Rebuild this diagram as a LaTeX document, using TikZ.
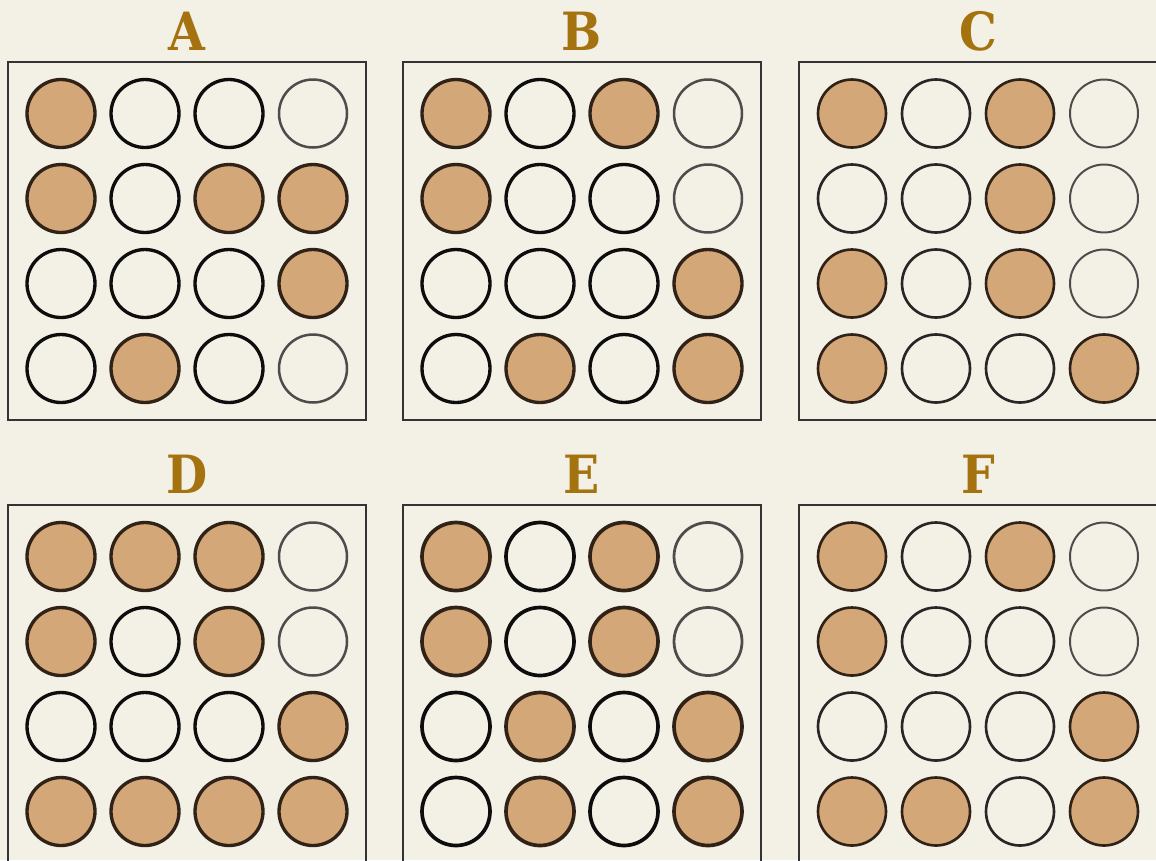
\documentclass[tikz,border=0pt]{standalone}
\usepackage{fontspec}
\usepackage{xcolor}
\usepackage{tikz}
\usetikzlibrary{positioning,calc}
\newfontfamily\tagfont[FakeStretch=0.9]{DejaVu Serif}
\definecolor{bgcream}{RGB}{243,240,229}
\definecolor{pegtan}{RGB}{212,167,120}
\definecolor{tagbrown}{RGB}{164,114,14}
\definecolor{rimbrown}{RGB}{48,34,22}

\begin{document}
\begin{tikzpicture}[
  x=0.02cm, y=-0.02cm,
  panel/.style={draw=black!80, line width=0.85pt, minimum size=7.16cm,
                inner sep=0pt, shape=rectangle},
  hole/.style={circle, minimum size=1.36cm, inner sep=0pt, draw=black},
  peg/.style={hole, fill=pegtan, draw=rimbrown},
  tag/.style={font=\tagfont\bfseries\fontsize{30}{31}\selectfont,
              text=tagbrown, inner sep=0pt},
]

%% -- background and page frame ------------------------------------------
\fill[bgcream] (0,0) rectangle (1156,860);
\useasboundingbox (0,0) rectangle (1156,860);

%% -- six panels: name / centre / rim width / rim shade / pegs by row -------
\foreach \p/\cx/\cy/\lw/\sh/\pat in {
    A/187/241/1.9/95/{1,0,0,0, 1,0,1,1, 0,0,0,1, 0,1,0,0},
    B/582/241/1.9/95/{1,0,1,0, 1,0,0,0, 0,0,0,1, 0,1,0,1},
    C/978/241/1.5/85/{1,0,1,0, 0,0,1,0, 1,0,1,0, 1,0,0,1},
    D/187/684/1.9/95/{1,1,1,0, 1,0,1,0, 0,0,0,1, 1,1,1,1},
    E/582/684/2.1/95/{1,0,1,0, 1,0,1,0, 0,1,0,1, 0,1,0,1},
    F/978/684/1.5/85/{1,0,1,0, 1,0,0,0, 0,0,0,1, 1,1,0,1}} {
  \node[panel] (box\p) at (\cx,\cy) {};
  \node[tag, above=0.22cm of box\p.north, anchor=base] (tag\p) {\p};
  \foreach \v [count=\k from 0] in \pat {
    \pgfmathtruncatemacro{\row}{int(\k/4)}
    \pgfmathtruncatemacro{\col}{mod(\k,4)}
    \pgfmathsetmacro{\dx}{(\col-1.5)*84}
    \pgfmathsetmacro{\dy}{(\row-1.5)*85}
    \ifnum\col=3
      \tikzset{rim/.style={line width=0.75*\lw pt, draw=black!70}}
    \else
      \tikzset{rim/.style={line width=\lw pt, draw=black!\sh}}
    \fi
    \ifnum\v=1
      \node[peg, line width=\lw pt] (\p-\row-\col) at ($(box\p.center)+(\dx,\dy)$) {};
    \else
      \node[hole, rim] (\p-\row-\col) at ($(box\p.center)+(\dx,\dy)$) {};
    \fi
  }
}

\end{tikzpicture}
\end{document}
